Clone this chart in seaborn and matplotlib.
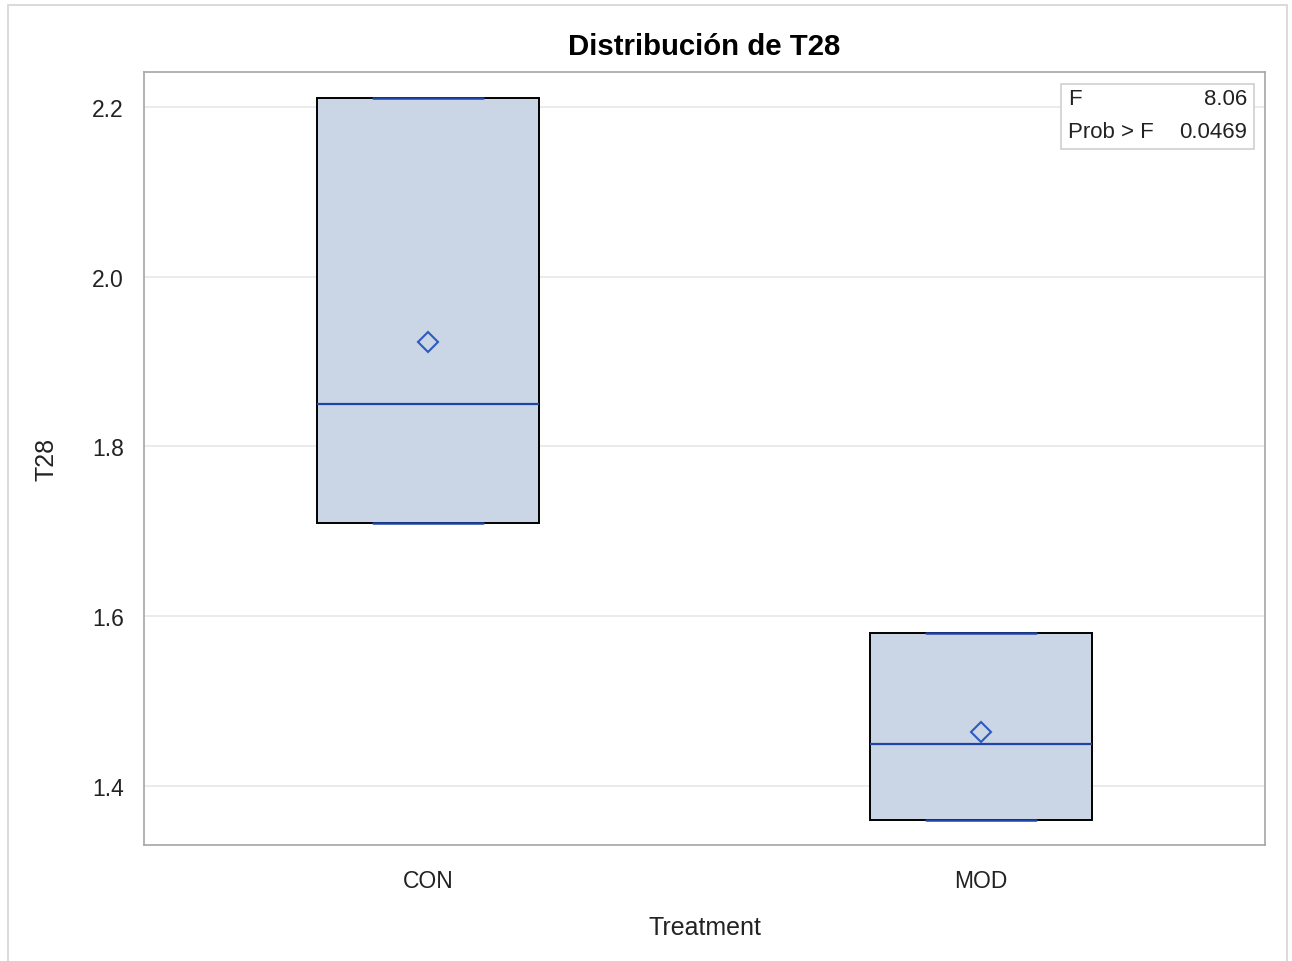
import numpy as np
import pandas as pd
import matplotlib
matplotlib.use("Agg")
import matplotlib.pyplot as plt
from matplotlib.patches import Rectangle
from matplotlib.ticker import FormatStrFormatter
import seaborn as sns

# Observations of T28 per treatment group
treatments = ["CON", "MOD"]
t28_con = [1.71, 1.85, 2.21]
t28_mod = [1.36, 1.45, 1.58]
y_ticks = [1.4, 1.6, 1.8, 2.0, 2.2]
anova_rows = [("F", "8.06"), ("Prob > F", "0.0469")]

df = pd.DataFrame({
    "Treatment": ["CON"] * len(t28_con) + ["MOD"] * len(t28_mod),
    "T28": t28_con + t28_mod,
})

sns.set_theme(style="white")
plt.rcParams["font.family"] = ["Liberation Sans", "DejaVu Sans"]

fill = "#CAD5E5"
blue = "#1F44A6"
axis_gray = "#A6A6A6"
text_col = "#222222"

fig = plt.figure(figsize=(12.92, 9.62), dpi=100)
ax = fig.add_axes([144 / 1292, 1 - 846 / 962, 1121 / 1292, 773 / 962])

# Box statistics with SAS-style (averaged empirical CDF) quartiles
stats = []
for name in treatments:
    vals = df.loc[df["Treatment"] == name, "T28"].to_numpy()
    q1, med, q3 = np.percentile(vals, [25, 50, 75], method="averaged_inverted_cdf")
    stats.append(dict(label=name, med=med, q1=q1, q3=q3,
                      whislo=vals.min(), whishi=vals.max(),
                      mean=vals.mean(), fliers=[]))

ax.bxp(stats, positions=range(len(treatments)), widths=0.4014, capwidths=0.2,
       patch_artist=True, manage_ticks=False, showfliers=False,
       boxprops=dict(facecolor=fill, edgecolor="black", linewidth=1.4),
       medianprops=dict(color=blue, linewidth=1.6),
       whiskerprops=dict(color=blue, linewidth=1.6),
       capprops=dict(color=blue, linewidth=1.8))

# Group means as open diamonds
sns.pointplot(data=df, x="Treatment", y="T28", order=treatments,
              estimator="mean", errorbar=None, linestyle="none",
              marker="D", color=blue, markerfacecolor="none",
              markeredgecolor="#2E5BC0", markersize=10.5,
              markeredgewidth=1.5, zorder=5, ax=ax)

ax.set_xlim(-0.5136, 1.5136)
ax.set_ylim(1.3305, 2.2412)
ax.set_yticks(y_ticks)
ax.yaxis.set_major_formatter(FormatStrFormatter("%.1f"))
ax.set_xticks(range(len(treatments)))
ax.set_xticklabels(treatments)

ax.set_axisbelow(True)
ax.yaxis.grid(True, color="#E6E6E6", linewidth=1.1)
ax.xaxis.grid(False)
for sp in ax.spines.values():
    sp.set_color(axis_gray)
    sp.set_linewidth(1.2)
ax.tick_params(axis="both", which="major", direction="out", length=8.5,
               width=1.1, color=axis_gray, labelsize=16.5, labelcolor=text_col)
ax.tick_params(axis="y", pad=6)
ax.tick_params(axis="x", pad=9)

ax.set_xlabel("Treatment", fontsize=18, color=text_col, labelpad=16)
ax.set_ylabel("T28", fontsize=18, color=text_col, labelpad=24)

fig.text(704.5 / 1292, 1 - 47 / 962, "Distribución de T28", ha="center",
         va="center", fontsize=21.2, fontweight="bold", color="black")

# ANOVA inset
ax.add_patch(Rectangle((0.818, 0.900), 0.172, 0.0845, transform=ax.transAxes,
                       facecolor="white", edgecolor="#CFCFCF", linewidth=1.2,
                       zorder=6))
for (lab, val), yy in zip(anova_rows, [0.9651, 0.9224]):
    ax.text(0.8243, yy, lab, transform=ax.transAxes, ha="left", va="center",
            fontsize=16, color=text_col, zorder=7)
    ax.text(0.9838, yy, val, transform=ax.transAxes, ha="right", va="center",
            fontsize=16, color=text_col, zorder=7)

# Outer frame around the graph area
fig.add_artist(Rectangle((8 / 1292, -0.01), 1279 / 1292, 1 - 6 / 962 + 0.01,
                         transform=fig.transFigure, fill=False,
                         edgecolor="#D4D4D4", linewidth=1.2))

fig.savefig("out.png", dpi=100)
